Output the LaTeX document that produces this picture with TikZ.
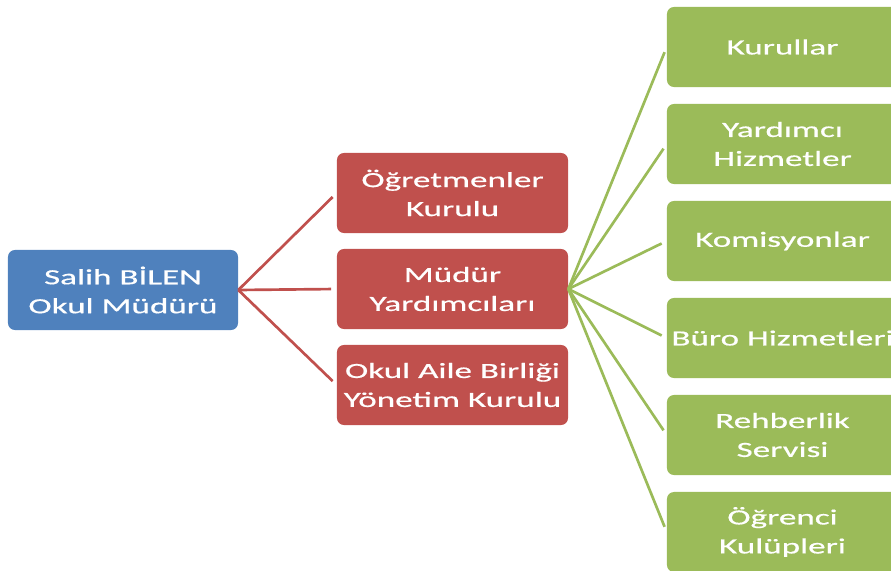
\documentclass[tikz,border=0pt]{standalone}
\usepackage{fontspec}
\setmainfont{Carlito}[FakeStretch=1.62,FakeBold=0.6]
\usetikzlibrary{positioning}
\definecolor{mavi}{HTML}{4F81BD}
\definecolor{kirmizi}{HTML}{C0504D}
\definecolor{yesil}{HTML}{9BBB59}

\begin{document}
\begin{tikzpicture}[x=0.025cm,y=-0.025cm,
	kutu/.style={rectangle,rounded corners=5pt,minimum width=5.775cm,minimum height=2cm,inner sep=0pt,text=white,align=center,font=\fontsize{15.4}{20.6}\selectfont},
	baglanti/.style={line width=1.9pt,shorten >=4pt}]
	\useasboundingbox (0,0) rectangle (891,570);
	
	% Okul muduru
	\node[kutu, fill=mavi, minimum width=5.75cm] (mudur) at (123,290) {Salih BİLEN\\Okul Müdürü};
	
	% Kirmizi kutular
	\foreach \ad [count=\i] in {Öğretmenler\\Kurulu, Müdür\\Yardımcıları, Okul Aile Birliği\\Yönetim Kurulu} {
		\node[kutu, fill=kirmizi] (r\i) at (452.5,96*\i+97) {\ad};
	}
	
	% Yesil kutular
	\foreach \ad [count=\i] in {Kurullar, Yardımcı\\Hizmetler, Komisyonlar, Büro Hizmetleri, Rehberlik\\Servisi, Öğrenci\\Kulüpleri} {
		\node[kutu, fill=yesil] (g\i) at (782.5,97*\i-50) {\ad};
	}
	
	% Baglantilar
	\foreach \i in {1,...,3} {
		\draw[baglanti, kirmizi] (mudur.east) -- (r\i.west);
	}
	\foreach \i in {1,...,6} {
		\draw[baglanti, yesil] (r2.east) -- (g\i.west);
	}
	
\end{tikzpicture}
\end{document}
